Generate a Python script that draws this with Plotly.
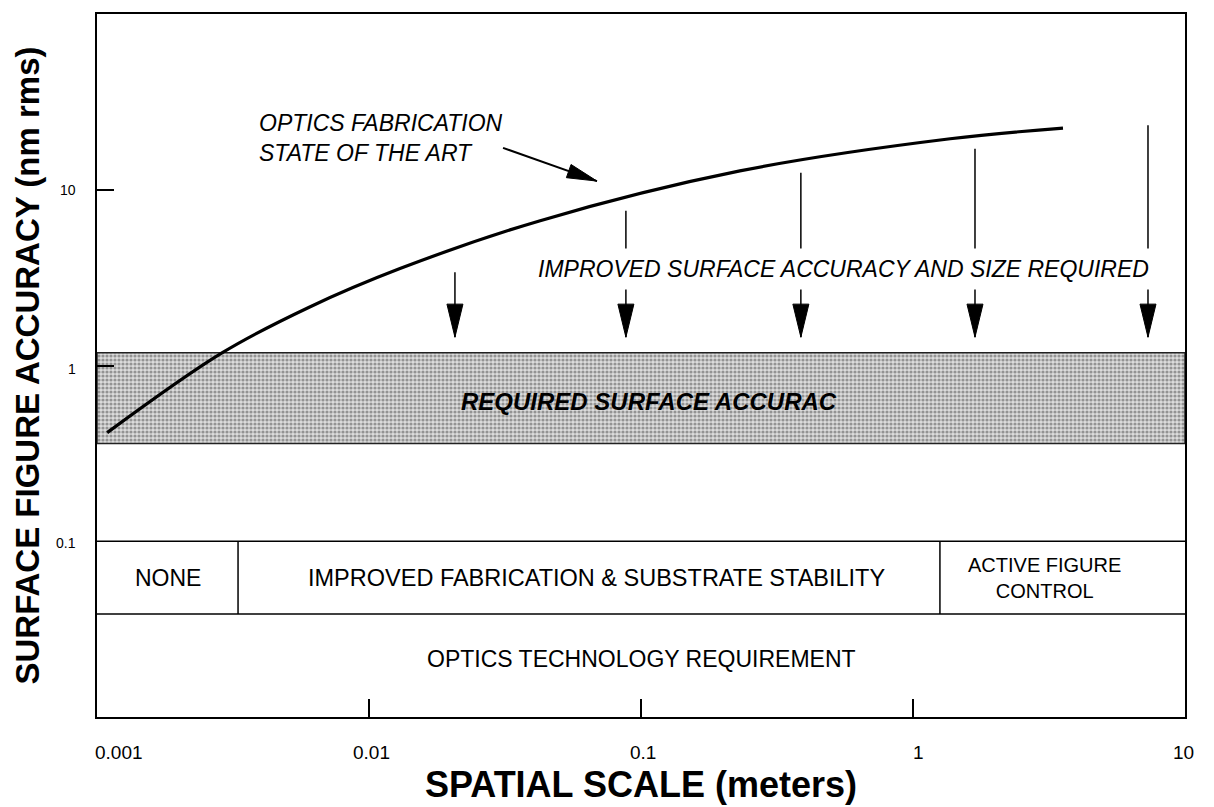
import numpy as np
import plotly.graph_objects as go

# ---------------- data ----------------
x_range = [0.001, 10]
y_range = [0.01, 100]

curve_x = [0.00109, 0.00288, 0.006, 0.013, 0.0426, 0.231, 1.37, 3.56]
curve_y = [0.415, 1.18, 2.14, 3.56, 6.67, 12.8, 19.5, 22.4]

band_low = 0.36
band_high = 1.18

row_top = 0.1
row_bottom = 0.0385
box_edges = [0.001, 0.0033, 1.256, 10]
box_labels = ["NONE", "IMPROVED FABRICATION & SUBSTRATE STABILITY", "ACTIVE FIGURE<br>CONTROL"]
bottom_label = "OPTICS TECHNOLOGY REQUIREMENT"
bottom_label_y = 0.0214

arrow_x = [0.0207, 0.088, 0.387, 1.69, 7.31]
arrow_top = [3.39, 7.6, 12.5, 17.1, 23.3]
arrow_tip = 1.45

sota_tail = (0.0311, 17.3)
sota_tip = (0.0689, 11.2)
sota_text = "OPTICS FABRICATION<br>STATE OF THE ART"
sota_text_pos = (0.00387, 19.7)

improve_text = "IMPROVED SURFACE ACCURACY AND SIZE REQUIRED"
improve_pos = (0.555, 3.56)
req_text = "REQUIRED SURFACE ACCURAC"
req_pos = (0.0215, 0.62)

x_ticks = [0.001, 0.01, 0.1, 1, 10]
x_tick_text = ["0.001", "0.01", "0.1", "1", "10"]
x_tick_shift = [22, 2, 2, 5, -2]
y_ticks = [0.1, 1, 10]
y_tick_text = ["0.1", "1", "10"]
y_tick_shift = [-2, -3, 0]

x_title = "SPATIAL SCALE (meters)"
y_title = "SURFACE FIGURE ACCURACY (nm rms)"

# ---------------- style ----------------
FONT = "Liberation Sans, Arial, Helvetica, sans-serif"
W, H = 1214, 807
BODY = 8  # default page margin around the plot div
ML, MR, MT, MB = 97 - BODY, 29 + BODY, 12 - BODY, 90 + BODY
lg = np.log10

fig = go.Figure()

# shaded band (required surface accuracy)
fig.add_trace(go.Scatter(
    x=[x_range[0], x_range[1], x_range[1], x_range[0], x_range[0]],
    y=[band_low, band_low, band_high, band_high, band_low],
    mode="lines", fill="toself",
    line=dict(color="#222222", width=1.5),
    fillcolor="#c0c0c0",
    fillpattern=dict(shape=".", bgcolor="#dcdcdc", fgcolor="#4a4a4a", size=4, solidity=0.5),
    hoverinfo="skip", showlegend=False))

# state of the art curve
fig.add_trace(go.Scatter(
    x=curve_x, y=curve_y, mode="lines",
    line=dict(color="black", width=3.2, shape="spline", smoothing=1.0),
    showlegend=False, hoverinfo="skip"))

# technology requirement boxes (lines)
for yv in [row_top, row_bottom]:
    fig.add_trace(go.Scatter(x=x_range, y=[yv, yv], mode="lines",
                             line=dict(color="black", width=1.5),
                             showlegend=False, hoverinfo="skip"))
for xv in box_edges[1:-1]:
    fig.add_trace(go.Scatter(x=[xv, xv], y=[row_bottom, row_top], mode="lines",
                             line=dict(color="black", width=1.5),
                             showlegend=False, hoverinfo="skip"))

# vertical arrow shafts
for xv, yt in zip(arrow_x, arrow_top):
    fig.add_trace(go.Scatter(x=[xv, xv], y=[yt, arrow_tip], mode="lines",
                             line=dict(color="black", width=1.5),
                             showlegend=False, hoverinfo="skip"))

# diagonal pointer shaft
fig.add_trace(go.Scatter(x=[sota_tail[0], sota_tip[0]], y=[sota_tail[1], sota_tip[1]],
                         mode="lines", line=dict(color="black", width=2),
                         showlegend=False, hoverinfo="skip"))

shapes = []
HEAD_L, HEAD_W = 33, 8
for xv in arrow_x:
    shapes.append(dict(type="path", xref="x", yref="y",
                       xsizemode="pixel", ysizemode="pixel",
                       xanchor=xv, yanchor=arrow_tip,
                       path=f"M0,0 L{-HEAD_W},{HEAD_L} L{HEAD_W},{HEAD_L} Z",
                       fillcolor="black", line=dict(color="black", width=1), layer="above"))

# diagonal head direction in pixel space
px_per_dec_x = (W - ML - MR) / (lg(x_range[1]) - lg(x_range[0]))
px_per_dec_y = (H - MT - MB) / (lg(y_range[1]) - lg(y_range[0]))
dx = (lg(sota_tip[0]) - lg(sota_tail[0])) * px_per_dec_x
dy = (lg(sota_tip[1]) - lg(sota_tail[1])) * px_per_dec_y
n = np.hypot(dx, dy)
ux, uy = dx / n, dy / n
nx, ny = -uy, ux
L2, W2 = 30, 7
bx, by = -L2 * ux, -L2 * uy
p1 = (bx + W2 * nx, by + W2 * ny)
p2 = (bx - W2 * nx, by - W2 * ny)
shapes.append(dict(type="path", xref="x", yref="y",
                   xsizemode="pixel", ysizemode="pixel",
                   xanchor=sota_tip[0], yanchor=sota_tip[1],
                   path=f"M0,0 L{p1[0]:.2f},{p1[1]:.2f} L{p2[0]:.2f},{p2[1]:.2f} Z",
                   fillcolor="black", line=dict(color="black", width=1), layer="above"))

annotations = []
# box labels
box_sizes = [23, 23.5, 20]
box_xshift = [0, 8, -18]
for i, lab in enumerate(box_labels):
    xc = 10 ** ((lg(box_edges[i]) + lg(box_edges[i + 1])) / 2)
    yc = 10 ** ((lg(row_top) + lg(row_bottom)) / 2)
    annotations.append(dict(x=lg(xc), y=lg(yc), text=lab, showarrow=False, xshift=box_xshift[i],
                            font=dict(family=FONT, size=box_sizes[i], color="black")))
annotations.append(dict(x=lg(10 ** ((lg(x_range[0]) + lg(x_range[1])) / 2)), y=lg(bottom_label_y),
                        text=bottom_label, showarrow=False,
                        font=dict(family=FONT, size=23, color="black")))

annotations.append(dict(x=lg(sota_text_pos[0]), y=lg(sota_text_pos[1]), text=sota_text,
                        showarrow=False, xanchor="left", yanchor="middle", align="left",
                        font=dict(family=FONT, size=23, style="italic", color="black")))
annotations.append(dict(x=lg(improve_pos[0]), y=lg(improve_pos[1]), text=improve_text,
                        showarrow=False, xanchor="center", yanchor="middle",
                        bgcolor="white", borderpad=7,
                        font=dict(family=FONT, size=23, style="italic", color="black")))
annotations.append(dict(x=lg(req_pos[0]), y=lg(req_pos[1]), text=req_text,
                        showarrow=False, xanchor="left", yanchor="middle",
                        font=dict(family=FONT, size=24, style="italic", weight="bold", color="black")))

# tick labels
for xv, t, s in zip(x_ticks, x_tick_text, x_tick_shift):
    annotations.append(dict(x=lg(xv), y=0, yref="paper", xref="x", text=t, showarrow=False,
                            yanchor="middle", xshift=s, yshift=-35,
                            font=dict(family=FONT, size=19, color="black")))
for yv, t, s in zip(y_ticks, y_tick_text, y_tick_shift):
    annotations.append(dict(x=0, xref="paper", y=lg(yv), yref="y", text=t, showarrow=False,
                            xanchor="right", xshift=-19, yshift=s,
                            font=dict(family=FONT, size=14, color="black")))

fig.update_layout(
    width=W, height=H,
    margin=dict(l=ML, r=MR, t=MT, b=MB),
    paper_bgcolor="white", plot_bgcolor="white",
    shapes=shapes, annotations=annotations,
    showlegend=False,
    xaxis=dict(type="log", range=[lg(x_range[0]), lg(x_range[1])],
               showgrid=False, zeroline=False, showline=True, mirror=True,
               linecolor="black", linewidth=2,
               ticks="inside", ticklen=18, tickwidth=1.5, tickcolor="black",
               tickvals=[0.01, 0.1, 1], showticklabels=False,
               title=dict(text=x_title, standoff=54,
                          font=dict(family=FONT, size=36, weight="bold", color="black"))),
    yaxis=dict(type="log", range=[lg(y_range[0]), lg(y_range[1])],
               showgrid=False, zeroline=False, showline=True, mirror=True,
               linecolor="black", linewidth=2,
               ticks="inside", ticklen=17, tickwidth=1.5, tickcolor="black",
               tickvals=[1, 10], showticklabels=False,
               title=dict(text=y_title, standoff=45,
                          font=dict(family=FONT, size=33, weight="bold", color="black"))),
)

fig.write_html("out.html")
